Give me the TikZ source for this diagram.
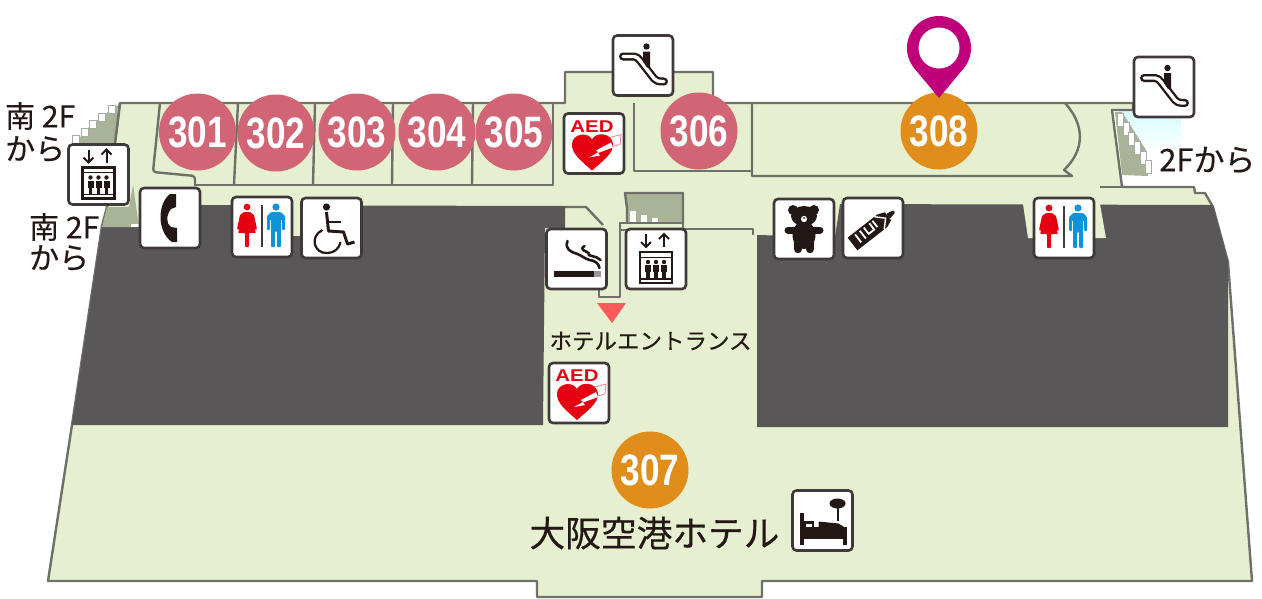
\documentclass[tikz,border=0pt]{standalone}
\usepackage{fontspec}
\setmainfont[FakeBold=0.35]{Noto Sans CJK JP}
\newfontfamily\numf[FakeStretch=0.8]{Liberation Sans}
\newfontfamily\aedf[FakeStretch=1.2]{Liberation Sans}
\usetikzlibrary{shadings}
\definecolor{floorc}{HTML}{E6EFCF}
\definecolor{wallc}{HTML}{6F706A}
\definecolor{darkc}{HTML}{595757}
\definecolor{olivec}{HTML}{A9B397}
\definecolor{inkc}{HTML}{231815}
\definecolor{boxc}{HTML}{40393A}
\definecolor{pinkc}{HTML}{D16575}
\definecolor{orangec}{HTML}{E08D1C}
\definecolor{pinc}{HTML}{C0007B}
\definecolor{redc}{HTML}{E60012}
\definecolor{bluec}{HTML}{0F93D8}
\tikzset{
  wall/.style={draw=wallc,line width=2.4pt,line join=round},
  iconbox/.style={draw=boxc,fill=white,line width=2.6pt,rounded corners=4pt,minimum width=60pt,minimum height=60pt,inner sep=0pt},
  numpink/.style={circle,fill=pinkc,minimum size=77pt,inner sep=0pt,text=white,font=\fontsize{44}{44}\selectfont\numf\bfseries},
  numorange/.style={numpink,fill=orangec},
  jp/.style={text=inkc,inner sep=0pt,align=left},
  stairstep/.style={fill=white,draw=wallc!60,line width=0.8pt},
  pics/esc/.style={code={
    \draw[inkc,line width=8pt,line cap=round,line join=round] (-20,-9)--(-9,-9) .. controls (-6,-9) and (-5,-7) .. (-3,-5)--(11,13) .. controls (13,15) and (14,16) .. (21,16);
    \draw[white,line width=3.4pt,line cap=round,line join=round] (-20,-9)--(-9,-9) .. controls (-6,-9) and (-5,-7) .. (-3,-5)--(11,13) .. controls (13,15) and (14,16) .. (21,16);
    \fill[inkc] (0,-14)--(7,-14)--(7,2)--(4,2)--(0,-4)--cycle;
    \fill[inkc] (3.5,-19) circle (3.2pt);
  }},
  pics/elev/.style={code={
    \draw[inkc,line width=2pt] (-10,-25)--(-10,-12);
    \draw[inkc,line width=2pt] (-15,-17)--(-10,-12)--(-5,-17);
    \draw[inkc,line width=2pt] (8,-12)--(8,-25);
    \draw[inkc,line width=2pt] (3,-20)--(8,-25)--(13,-20);
    \draw[inkc,line width=2.2pt] (-16,-7) rectangle (16,24);
    \draw[inkc,line width=1pt] (-16,-2)--(16,-2);
    \draw[inkc,line width=1.4pt] (-16,20)--(16,20);
    \foreach \px in {-8,0,8}{
      \fill[inkc] (\px,3) circle (2.2pt);
      \fill[inkc] (\px-3,6) rectangle (\px+3,13);
      \fill[inkc] (\px-1.8,13) rectangle (\px+1.8,19);
    }
  }},
  pics/phone/.style={code={
    \fill[inkc] (6,-24)--(6,-11)--(1,-9).. controls (-4,-3) and (-4,6) .. (1,9)--(7,10)--(7,24)--(2,24).. controls (-13,14) and (-13,-14) .. (0,-24)--cycle;
  }},
  pics/wc/.style={code={
    \fill[redc] (-15,-20) circle (3.4pt);
    \fill[redc,rounded corners=0.8pt] (-18,-15)--(-12,-15)--(-8,-12)--(-5,2)--(-8,3)--(-10,-5)--(-6,6)--(-13,6)--(-13,20)--(-17,20)--(-17,6)--(-24,6)--(-20,-5)--(-22,3)--(-25,2)--(-22,-12)--cycle;
    \draw[boxc,line width=2pt] (0,-22)--(0,20);
    \fill[bluec] (14,-20) circle (3.6pt);
    \fill[bluec,rounded corners=1pt] (9,-15)--(19,-15)--(23,-11)--(23,3)--(20,3)--(20,-8)--(19,-8)--(19,20)--(15,20)--(15,4)--(13,4)--(13,20)--(9,20)--(9,-8)--(8,-8)--(8,3)--(5,3)--(5,-11)--cycle;
  }},
  pics/wheel/.style={code={
    \fill[inkc] (-5,-21) circle (3.6pt);
    \draw[inkc,line width=3pt,line join=round] (-5,-16)--(-3,3)--(12,4)--(16,16)--(23,14);
    \draw[inkc,line width=2.2pt] (-4,-6)--(9,-6);
    \draw[inkc,line width=2.2pt] (-9,2) .. controls (-22,8) and (-18,26) .. (-4,25) .. controls (3,25) and (8,20) .. (9,14);
  }},
  pics/aed/.style={code={
    \draw[redc!50,line width=0.8pt,fill=white] (12,-5)--(27,-9)--(26,1)--(8,6)--cycle;
    \node[inner sep=0pt,text=redc,font=\fontsize{17}{17}\selectfont\aedf\bfseries] (aedtext) at (-2,-17) {AED};
    \fill[redc] (-2,27) .. controls (-12,18) and (-23,10) .. (-22,0) .. controls (-21,-10) and (-6,-12) .. (-2,-4) .. controls (2,-12) and (17,-11) .. (19,0) .. controls (20,10) and (8,18) .. (-2,27) -- cycle;
    \fill[white] (17,-1)--(2,7)--(4,9)--(-5,14)--(6,12)--(4,9.5)--(19,4)--cycle;
  }},
  pics/smoke/.style={code={
    \fill[inkc] (-23,12) rectangle (17,18);
    \fill[inkc!45] (17,12) rectangle (24,18);
    \draw[inkc,line width=2.6pt,line cap=round] (-9,-18) .. controls (-12,-10) and (-6,-7) .. (1,-5) .. controls (6,-3) and (7,-1) .. (13,1) .. controls (20,2) and (22,5) .. (23,9);
    \draw[inkc,line width=2.6pt,line cap=round] (8,-13) .. controls (2,-9) and (10,-8) .. (12,-6) .. controls (10,-2) and (20,-4) .. (24,1);
  }},
  pics/bear/.style={code={
    \fill[inkc] (-11,-19) circle (5pt);
    \fill[inkc] (10,-19) circle (5pt);
    \fill[inkc] (0,-13) ellipse (13pt and 10pt);
    \fill[inkc] (0,6) ellipse (11.5pt and 14pt);
    \draw[inkc,line width=7pt,line cap=round] (-16,1)--(16,1);
    \draw[inkc,line width=8.5pt,line cap=round] (-6,14)--(-6,20);
    \draw[inkc,line width=8.5pt,line cap=round] (6,14)--(6,20);
    \fill[white] (0,-10) ellipse (3pt and 3.2pt);
    \fill[inkc] (0,-11) circle (1pt);
  }},
  pics/bottle/.style={code={
    \begin{scope}[rotate=38]
      \fill[inkc] (-26,-8) rectangle (12,8);
      \fill[inkc] (12,-8)--(19,-5)--(19,5)--(12,8)--cycle;
      \fill[inkc,rounded corners=1pt] (19,-3)--(27,-1.5)--(27,1.5)--(19,3)--cycle;
      \foreach \bx in {-19,-13}{\fill[white] (\bx,-6) rectangle (\bx+1.8,4);}
      \draw[white,line width=1.8pt] (-7,-6)--(-7,2)--(0,2)--(0,-6);
      \draw[white,line width=1.8pt] (4,-6)--(4,2);
      \draw[white,line width=1.4pt] (8,-8)--(16,0)--(8,8);
    \end{scope}
  }},
  pics/bed/.style={code={
    \fill[inkc] (-23,-8) rectangle (-19,24);
    \fill[inkc] (20,8) rectangle (24,24);
    \fill[inkc] (-19,6) rectangle (24,18);
    \fill[inkc] (-19,0) rectangle (-9,6);
    \fill[inkc] (-4,1)--(16,3)--(24,8)--(-4,8)--cycle;
    \fill[white] (-17,3) rectangle (-11,6);
    \fill[inkc] (15,-17) ellipse (8pt and 5pt);
    \draw[inkc,line width=2pt] (15,-16)--(15,0);
  }},
}
\begin{document}
\begin{tikzpicture}[x=1pt,y=-1pt]
\useasboundingbox (0,0) rectangle (1262,598);
% light-blue stair glow
\shade[top color=blue!8!cyan!18!white,bottom color=white] (1118,108) rectangle (1181,152);
% floor plate
\path[wall,fill=floorc] (120,103)--(565,103)--(565,72)--(713,72)--(713,103)--(1133,103)--(1133,110)--(1112,110)--(1122,187)--(1194,187)--(1195,193)--(1205,193)--(1213,207)--(1228,262)--(1252,581)--(762,581)--(762,597)--(537,597)--(537,581)--(48,581)--(72,425)--(102,226)--(107,207)--cycle;
% parking / dark blocks
\fill[darkc] (102,226)--(140,226)--(140,205)--(565,206)--(565,228)--(545,228)--(543,425)--(72,425)--cycle;
\fill[darkc] (757,235)--(835,237)--(840,204)--(1213,205)--(1228,262)--(1228,427)--(757,427)--cycle;
\fill[floorc] (1023,204)--(1028,238)--(1106,238)--(1100,204)--cycle;
\fill[floorc] (292,205) rectangle (302,236);
% left stairs
\fill[olivec] (118,105)--(108,112)--(98,120)--(89,127)--(81,135)--(78,143)--(115,143)--cycle;
\foreach \sx/\sy in {72/135,81/128,89/120,98/113,108/105}{\draw[stairstep] (\sx,\sy) rectangle (\sx+7,\sy+8);}
\fill[olivec] (107,207)--(102,227)--(139,227)--(133,185)--(129,207)--cycle;
\fill[white] (131,224) rectangle (139,227);
\draw[wall] (120,103)--(107,207);
% rooms 301-305
\draw[wall,rounded corners=3pt] (160,103)--(153,172)--(195,176)--(195,186);
\draw[wall] (195,185)--(553,185)--(553,103);
\draw[wall] (238,103)--(234,185);
\draw[wall] (315,103)--(313,185);
\draw[wall] (393,103)--(392,185);
\draw[wall] (473,103)--(472,185);
% room 306
\draw[wall] (634,103)--(634,171)--(752,171);
% room 308
\draw[wall] (752,103)--(752,176)--(1072,176)--(1064,170) .. controls (1085,150) and (1085,125) .. (1065,103);
% right stairs
\fill[olivec] (1115,112)--(1122,175)--(1148,176)--(1146,150)--(1122,112)--cycle;
\foreach \si in {0,...,5}{\draw[stairstep] (1117.5+5.6*\si,113+9.5*\si) rectangle (1123.5+5.6*\si,126+9.5*\si);}
\draw[wall] (1100,187)--(1122,187);
% centre core
\path[wall,draw=wallc,fill=olivec] (625,193)--(683,193)--(683,230)--(627,230)--(627,208)--cycle;
\foreach \si in {0,...,3}{\fill[white] (630+11*\si,211+3.5*\si) rectangle (636+11*\si,224);}
\draw[wall] (683,229)--(753,229)--(753,235);
\path[wall,fill=floorc] (620,223)--(683,223)--(683,230)--(620,230)--cycle;
\draw[wall] (683,223)--(620,223)--(620,297)--(599,297)--(599,288);
\draw[wall] (565,207)--(586,207)--(603,225);
% red marker
\fill[red!65!white] (597,303)--(626,303)--(612,323)--cycle;
% number circles
\node[numpink] (n301) at (197.5,132) {301};
\node[numpink] (n302) at (276,133) {302};
\node[numpink] (n303) at (357,132) {303};
\node[numpink] (n304) at (437,132) {304};
\node[numpink] (n305) at (514,132) {305};
\node[numpink] (n306) at (699,131) {306};
\node[numorange] (n308) at (939,131) {308};
\node[numorange] (n307) at (650,470) {307};
% pin
\fill[pinc] (939,48) circle (32pt);
\fill[pinc] (914.1,68)--(939,98)--(963.9,68)--cycle;
\fill[white] (939,48) circle (20.5pt);
% icon boxes
\node[iconbox] (elevA) at (98.5,174.5) {}; \pic at (98.5,174.5) {elev};
\node[iconbox] (tel) at (170,218) {}; \pic at (170,218) {phone};
\node[iconbox] (wcA) at (262,227) {}; \pic at (262,227) {wc};
\node[iconbox] (chair) at (331.5,228) {}; \pic at (331.5,228) {wheel};
\node[iconbox] (aedA) at (594,143.5) {}; \pic at (594,143.5) {aed};
\node[iconbox] (escA) at (643,65.5) {}; \pic at (643,65.5) {esc};
\node[iconbox] (smk) at (576.5,259) {}; \pic at (576.5,259) {smoke};
\node[iconbox] (elevB) at (656,259) {}; \pic at (656,259) {elev};
\node[iconbox] (aedB) at (579,393) {}; \pic at (579,393) {aed};
\node[iconbox] (teddy) at (804,229) {}; \pic at (804,229) {bear};
\node[iconbox] (milk) at (873,228) {}; \pic at (873,228) {bottle};
\node[iconbox] (wcB) at (1064,228) {}; \pic at (1064,228) {wc};
\node[iconbox] (escB) at (1164,87) {}; \pic at (1164,87) {esc};
\node[iconbox] (hotel) at (822.5,520.5) {}; \pic at (822.5,520.5) {bed};
% texts
\node[jp,anchor=west,font=\fontsize{30}{32}\selectfont] (tA1) at (5,116) {南 2F};
\node[jp,anchor=west,font=\fontsize{30}{32}\selectfont] (tA2) at (5,149) {から};
\node[jp,anchor=west,font=\fontsize{30}{32}\selectfont] (tB1) at (29,227) {南 2F};
\node[jp,anchor=west,font=\fontsize{30}{32}\selectfont] (tB2) at (29,258) {から};
\node[jp,anchor=west,font=\fontsize{31}{33}\selectfont] (tC) at (1159,160) {2Fから};
\node[jp,anchor=center,font=\fontsize{22.5}{24}\selectfont] (tD) at (650.5,341) {ホテルエントランス};
\node[jp,anchor=center,font=\fontsize{35.7}{38}\selectfont] (tE) at (654.5,533) {大阪空港ホテル};
\end{tikzpicture}
\end{document}
